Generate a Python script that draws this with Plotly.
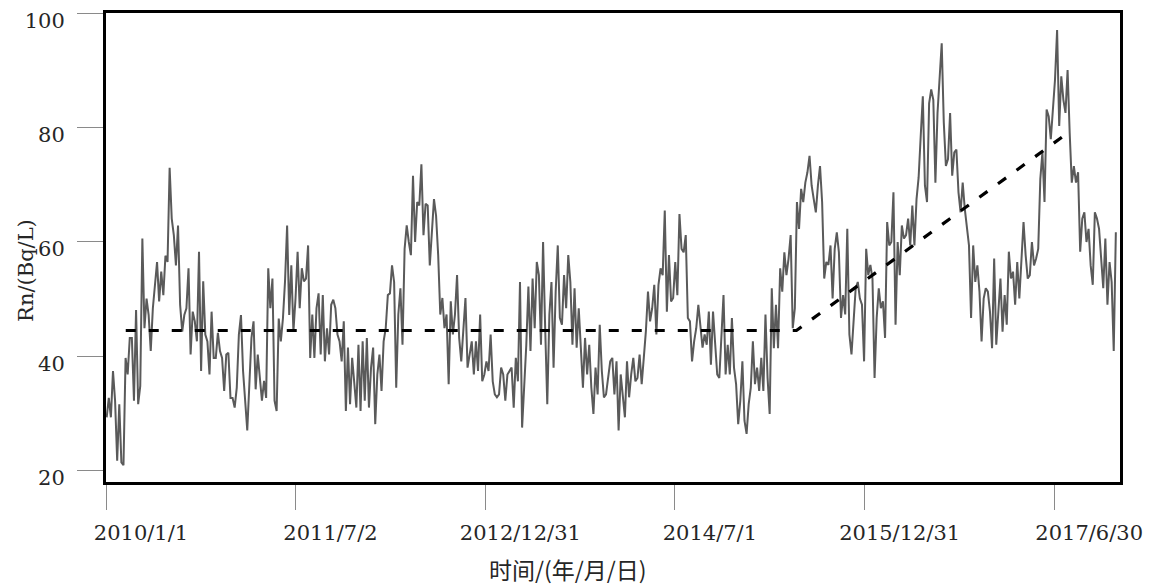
import pandas as pd
import plotly.graph_objects as go

# Rn concentration (Bq/L), sampled at a regular interval from 2010-01-03 to 2017-12-25
rn_2010_2011 = [
    29.3, 32.7, 29.3, 37.4, 32.2, 21.7, 31.6, 21.4, 20.9, 39.7,
    36.8, 43.2, 43.2, 32.2, 48.1, 31.6, 34.8, 60.6, 44.9, 50.1,
    47.2, 40.9, 48.4, 51.9, 56.5, 49.6, 54.8, 50.7, 57.6, 56.5,
    73.0, 64.1, 61.2, 55.9, 62.9, 49.0, 44.3, 47.2, 48.4, 55.4,
    40.3, 47.8, 46.1, 42.6, 58.3, 37.4, 53.1, 43.8, 42.6, 36.8,
    47.8, 39.7, 39.7, 44.1, 40.9, 39.7, 33.9, 40.3, 40.6, 32.7,
    32.7, 31.0, 34.5, 43.8, 47.2, 37.4, 32.2, 27.0, 35.1, 43.2,
    46.1, 34.2, 40.3, 36.8, 32.2, 35.7, 32.7, 55.4, 48.4, 53.6,
    32.2, 30.4, 46.6, 42.6, 46.6, 53.1, 62.9, 47.2, 55.9, 44.3,
    50.1, 58.3, 48.4, 55.4, 53.1, 53.6,
]

rn_2011_2013 = [
    59.4, 39.7, 47.3, 39.7, 48.4, 51.0, 40.3, 50.7, 39.1, 44.9,
    40.3, 49.0, 49.9, 48.4, 43.8, 42.6, 39.1, 46.1, 30.4, 41.5,
    31.6, 39.7, 35.6, 31.0, 42.0, 30.4, 42.6, 32.2, 43.2, 31.0,
    38.0, 41.5, 28.1, 36.8, 40.3, 33.9, 42.6, 44.9, 50.7, 51.0,
    55.9, 53.0, 34.5, 47.3, 51.9, 42.0, 58.8, 62.9, 60.0, 57.7,
    71.6, 60.0, 67.0, 66.4, 73.6, 61.2, 66.7, 66.4, 55.9, 62.9,
    67.5, 64.6, 57.7, 47.3, 50.2, 44.9, 47.3, 35.1, 49.6, 43.8,
    47.3, 54.2, 43.2, 39.1, 44.9, 50.2, 38.0, 40.3, 42.6, 36.8,
    42.6, 37.4, 47.3, 35.6, 36.8, 39.1, 37.4, 43.8, 35.6, 33.3,
    32.8, 33.3, 38.0, 36.8, 32.2,
]

rn_2013_2014 = [
    36.8, 37.4, 38.0, 31.0, 39.7, 35.6, 53.0, 27.5, 34.5, 42.0,
    52.2, 40.9, 53.6, 44.9, 56.5, 54.2, 42.0, 60.0, 44.9, 31.6,
    47.3, 53.0, 38.0, 51.3, 59.4, 46.7, 45.5, 54.2, 48.4, 57.7,
    53.0, 42.0, 51.9, 41.5, 48.4, 41.5, 34.5, 43.2, 36.8, 42.0,
    34.5, 29.9, 38.0, 33.3, 45.5, 37.4, 32.8, 33.3, 36.2, 39.1,
    39.7, 33.3, 39.1, 27.0, 36.8, 33.3, 29.3, 39.1, 32.8, 36.8,
    39.7, 35.6, 36.2, 40.3, 35.1, 39.7, 44.4, 51.3, 46.1, 48.4,
    52.5, 43.8, 52.5, 55.4, 54.2, 65.5, 47.8, 57.7, 49.6, 50.2,
    56.5, 50.7, 64.9, 58.8, 58.2, 61.2, 46.7, 46.1, 39.1, 42.6,
    44.9, 49.0, 44.9, 41.5, 43.8, 42.0,
]

rn_2014_2015 = [
    47.8, 38.5, 47.8, 41.4, 36.8, 36.2, 44.3, 50.7, 36.8, 42.0,
    36.8, 46.7, 38.0, 35.1, 28.1, 32.2, 39.1, 28.7, 26.4, 31.6,
    34.5, 42.6, 35.1, 38.0, 33.9, 39.7, 33.9, 47.3, 36.2, 29.9,
    51.9, 41.4, 49.0, 41.4, 55.4, 51.3, 58.2, 54.2, 57.1, 61.2,
    44.9, 48.4, 67.0, 62.3, 69.3, 67.0, 70.4, 72.2, 75.1, 69.9,
    67.5, 65.2, 69.9, 73.3, 67.0, 53.6, 56.5, 56.0, 59.4, 50.1,
    58.8, 61.7, 58.2, 46.7, 50.7, 47.3, 62.3, 43.8, 40.3, 46.7,
    51.9, 53.0, 50.1, 49.0, 39.1, 58.8, 54.2, 56.0, 53.6, 36.2,
    46.7, 51.9, 48.4, 49.6, 43.2, 63.5, 59.4, 60.0, 68.7, 45.5,
    60.0, 54.2, 62.9, 60.6, 61.2,
]

rn_2015_2017 = [
    64.1, 59.4, 66.4, 59.4, 67.5, 71.3, 78.6, 85.5, 69.9, 67.0,
    84.3, 86.7, 84.9, 70.4, 82.6, 89.6, 94.8, 80.9, 73.3, 74.5,
    82.6, 71.6, 75.7, 76.2, 68.7, 65.2, 70.4, 65.8, 62.9, 59.4,
    46.7, 59.4, 53.0, 55.9, 51.3, 42.6, 50.1, 51.9, 51.3, 47.8,
    41.4, 57.1, 42.0, 49.0, 53.6, 44.3, 50.7, 45.5, 58.3, 53.6,
    54.8, 49.0, 56.5, 50.1, 57.1, 63.5, 57.7, 53.6, 54.2, 60.0,
    55.9, 57.1, 58.8, 71.0, 75.7, 67.0, 83.2, 82.0, 78.0, 84.3,
    88.4, 97.1, 80.3, 89.0, 84.9, 82.6, 90.1, 79.1, 70.4, 73.3,
    70.4, 72.2, 58.3, 64.1, 65.2, 60.0, 62.3, 55.9, 52.5, 65.2,
    64.1, 62.3, 57.7, 51.9, 60.6, 49.0, 56.5, 53.0, 40.9, 61.7,
]

# Piecewise trend: flat baseline, then rising segment
trend_dates = ["2010-02-27", "2015-06-17", "2017-08-15"]
trend_values = [44.5, 44.5, 79.4]

# Axis ticks
tick_dates = ["2010-01-01", "2011-07-02", "2012-12-31", "2014-07-01", "2015-12-31", "2017-06-30"]
tick_labels = ["2010/1/1", "2011/7/2", "2012/12/31", "2014/7/1", "2015/12/31", "2017/6/30"]
y_ticks = [20, 40, 60, 80, 100]

rn_values = rn_2010_2011 + rn_2011_2013 + rn_2013_2014 + rn_2014_2015 + rn_2015_2017
rn_dates = pd.date_range("2010-01-03", "2017-12-25", periods=len(rn_values))

SERIF = "DejaVu Serif"
TEXT = "#262626"

fig = go.Figure()
fig.add_trace(go.Scatter(
    x=rn_dates, y=rn_values, mode="lines",
    line=dict(color="#5a5a5a", width=2),
    showlegend=False, hoverinfo="skip",
))
fig.add_trace(go.Scatter(
    x=pd.to_datetime(trend_dates), y=trend_values, mode="lines",
    line=dict(color="#000000", width=3.2, dash="10px,13px"),
    showlegend=False, hoverinfo="skip",
))

fig.update_layout(
    width=1152, height=585, autosize=False,
    margin=dict(l=106, r=28, t=9, b=103),
    paper_bgcolor="white", plot_bgcolor="white",
    xaxis=dict(
        type="date",
        range=["2010-01-01", "2018-01-06"],
        tickvals=pd.to_datetime(tick_dates), ticktext=tick_labels,
        ticks="outside", ticklen=25, tickwidth=1, tickcolor="#8a8a8a",
        showline=True, linecolor="#000000", linewidth=3, mirror=True,
        showgrid=False, zeroline=False,
        tickfont=dict(family=SERIF, size=21, color=TEXT),
        ticklabelshift=35, ticklabelstandoff=5,
        ticklabeloverflow="allow",
    ),
    yaxis=dict(
        range=[17.97, 100.1],
        tickvals=y_ticks,
        ticks="outside", ticklen=26, tickwidth=1, tickcolor="#8a8a8a",
        showline=True, linecolor="#000000", linewidth=3, mirror=True,
        showgrid=False, zeroline=False,
        tickfont=dict(family=SERIF, size=21, color=TEXT),
        ticklabelshift=7, ticklabelstandoff=8,
        ticklabeloverflow="allow",
    ),
    annotations=[
        dict(text="Rn/(Bq/L)", xref="paper", yref="paper",
             x=-0.079, y=0.452, xanchor="center", yanchor="middle",
             textangle=-90, showarrow=False,
             font=dict(family=SERIF, size=21, color=TEXT)),
        dict(text="时间/(年/月/日)", xref="paper", yref="paper",
             x=0.456, y=-0.186, xanchor="center", yanchor="middle",
             showarrow=False,
             font=dict(family="Noto Sans CJK SC", size=23, color=TEXT)),
    ],
)

fig.write_html("out.html")
